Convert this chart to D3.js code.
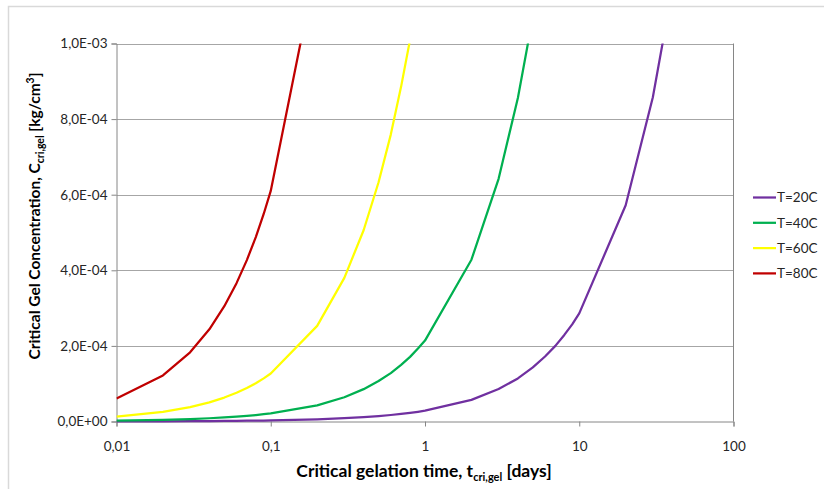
<!DOCTYPE html>
<html>
<head>
<meta charset="utf-8">
<script src="https://cdn.jsdelivr.net/npm/d3@7"></script>
<style>
  html, body { margin: 0; padding: 0; background: #fff; }
  svg { display: block; font-family: Lato, "Open Sans", sans-serif; }
</style>
</head>
<body>
<svg id="chart" width="824" height="489"></svg>
<script>
// Critical gelation time [days] at which each concentration is reached
const times = [
  0.01, 0.02, 0.03, 0.04, 0.05, 0.06, 0.07, 0.08, 0.09,
  0.1, 0.2, 0.3, 0.4, 0.5, 0.6, 0.7, 0.8, 0.9,
  1, 2, 3, 4, 5, 6, 7, 8, 9,
  10, 20, 30, 40
];

// Critical gel concentration [kg/cm3], one value per entry of `times`
const conc20 = [
  2.9e-7, 5.7e-7, 8.6e-7, 1.14e-6, 1.43e-6, 1.72e-6, 2.0e-6, 2.29e-6, 2.57e-6,
  2.86e-6, 5.7e-6, 8.6e-6, 1.14e-5, 1.43e-5, 1.72e-5, 2.0e-5, 2.29e-5, 2.57e-5,
  2.86e-5, 5.72e-5, 8.58e-5, 1.14e-4, 1.43e-4, 1.72e-4, 2.0e-4, 2.29e-4, 2.57e-4,
  2.86e-4, 5.72e-4, 8.58e-4, 1.14e-3
];
const conc40 = [
  2.1e-6, 4.3e-6, 6.4e-6, 8.6e-6, 1.07e-5, 1.28e-5, 1.5e-5, 1.71e-5, 1.93e-5,
  2.14e-5, 4.28e-5, 6.42e-5, 8.56e-5, 1.07e-4, 1.28e-4, 1.5e-4, 1.71e-4, 1.93e-4,
  2.14e-4, 4.28e-4, 6.42e-4, 8.56e-4, 1.07e-3
];
const conc60 = [
  1.27e-5, 2.53e-5, 3.8e-5, 5.06e-5, 6.33e-5, 7.59e-5, 8.86e-5, 1.01e-4, 1.14e-4,
  1.27e-4, 2.53e-4, 3.8e-4, 5.06e-4, 6.33e-4, 7.59e-4, 8.86e-4, 1.01e-3
];
const conc80 = [
  6.1e-5, 1.22e-4, 1.83e-4, 2.44e-4, 3.05e-4, 3.66e-4, 4.27e-4, 4.88e-4, 5.49e-4,
  6.1e-4, 1.22e-3
];

const seriesNames = ["T=20C", "T=40C", "T=60C", "T=80C"];
const seriesColors = ["#7030a0", "#00b050", "#ffff00", "#c00000"];
const seriesValues = [conc20, conc40, conc60, conc80];

const xTicks = [0.01, 0.1, 1, 10, 100];
const xTickLabels = ["0,01", "0,1", "1", "10", "100"];
const yTicks = [0, 2e-4, 4e-4, 6e-4, 8e-4, 1e-3];
const yTickLabels = ["0,0E+00", "2,0E-04", "4,0E-04", "6,0E-04", "8,0E-04", "1,0E-03"];

const svg = d3.select("#chart");
const plot = { left: 116.5, right: 733.5, top: 43.5, bottom: 421.5 };

const x = d3.scaleLog().domain([0.01, 100]).range([plot.left, plot.right]);
const y = d3.scaleLinear().domain([0, 1e-3]).range([plot.bottom, plot.top]);

// outer chart frame
svg.append("rect")
  .attr("x", 8.5).attr("y", 6.5).attr("width", 830).attr("height", 500)
  .attr("fill", "none").attr("stroke", "#d9d9d9").attr("stroke-width", 1.5);

// horizontal gridlines
svg.append("g")
  .selectAll("line")
  .data(yTicks.slice(1))
  .join("line")
  .attr("x1", plot.left).attr("x2", plot.right)
  .attr("y1", d => Math.round(y(d)) + 0.5).attr("y2", d => Math.round(y(d)) + 0.5)
  .attr("stroke", "#a6a6a6").attr("stroke-width", 1);

// right border of the plot area
svg.append("line")
  .attr("x1", plot.right).attr("x2", plot.right)
  .attr("y1", plot.top).attr("y2", plot.bottom)
  .attr("stroke", "#868686");

// y axis
const yAxis = d3.axisLeft(y)
  .tickValues(yTicks)
  .tickFormat((d, i) => yTickLabels[i])
  .tickSize(5)
  .tickPadding(4);
const gy = svg.append("g").attr("transform", `translate(${plot.left},0)`).call(yAxis);

// x axis
const xAxis = d3.axisBottom(x)
  .tickValues(xTicks)
  .tickFormat((d, i) => xTickLabels[i])
  .tickSize(5)
  .tickPadding(15);
const gx = svg.append("g").attr("transform", `translate(0,${plot.bottom})`).call(xAxis);

[gx, gy].forEach(g => {
  g.select(".domain").attr("stroke", "#868686");
  g.selectAll(".tick line").attr("stroke", "#868686");
  g.selectAll(".tick text")
    .attr("fill", "#262626")
    .style("font-family", "Lato, 'Open Sans', sans-serif")
    .style("font-size", "13.5px");
});

// series lines, clipped to the plot area
svg.append("defs").append("clipPath").attr("id", "plotClip")
  .append("rect")
  .attr("x", plot.left).attr("y", plot.top)
  .attr("width", plot.right - plot.left).attr("height", plot.bottom - plot.top + 2);

const line = d3.line()
  .x(d => x(d[0]))
  .y(d => y(d[1]));

svg.append("g").attr("clip-path", "url(#plotClip)")
  .selectAll("path")
  .data(seriesValues.map((vals, i) => ({ i, pts: vals.map((v, k) => [times[k], v]) })))
  .join("path")
  .attr("d", d => line(d.pts))
  .attr("fill", "none")
  .attr("stroke", d => seriesColors[d.i])
  .attr("stroke-width", 2.25)
  .attr("stroke-linejoin", "round");

// legend
const legend = svg.append("g");
const legendTop = 197.5, legendStep = 25.3;
seriesNames.forEach((name, i) => {
  const ly = legendTop + i * legendStep;
  legend.append("line")
    .attr("x1", 753).attr("x2", 776)
    .attr("y1", ly).attr("y2", ly)
    .attr("stroke", seriesColors[i]).attr("stroke-width", 2.25);
  legend.append("text")
    .attr("x", 777).attr("y", ly)
    .attr("dy", "0.35em")
    .attr("fill", "#262626")
    .style("font-size", "13.5px")
    .text(name);
});

// axis titles
const xTitle = svg.append("text")
  .attr("x", 424).attr("y", 477)
  .attr("text-anchor", "middle")
  .style("font-size", "17.5px").style("font-weight", "bold")
  .attr("fill", "#000");
xTitle.append("tspan").text("Critical gelation time, t");
xTitle.append("tspan").attr("dy", 4).style("font-size", "11px").text("cri,gel");
xTitle.append("tspan").attr("dy", -4).text(" [days]");

const yTitle = svg.append("text")
  .attr("transform", "translate(40,216) rotate(-90)")
  .attr("text-anchor", "middle")
  .style("font-size", "15.5px").style("font-weight", "bold")
  .attr("fill", "#000");
yTitle.append("tspan").text("Critical Gel Concentration, C");
yTitle.append("tspan").attr("dy", 4).style("font-size", "10.5px").text("cri,gel");
yTitle.append("tspan").attr("dy", -4).text("  [kg/cm");
yTitle.append("tspan").attr("dy", -6).style("font-size", "10.5px").text("3");
yTitle.append("tspan").attr("dy", 6).text("]");
</script>
</body>
</html>
